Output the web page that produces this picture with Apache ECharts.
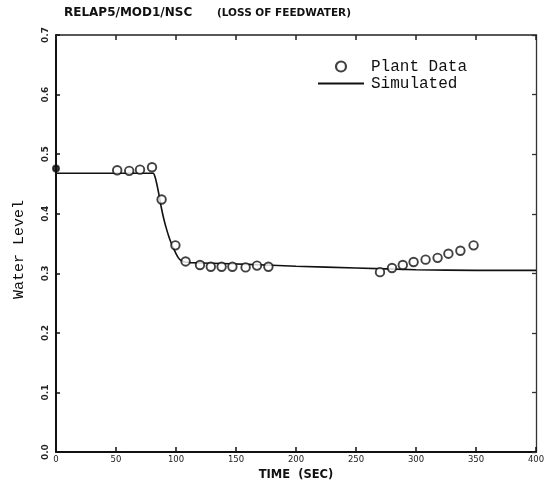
<!DOCTYPE html>
<html>
<head>
<meta charset="utf-8">
<script src="https://cdn.jsdelivr.net/npm/echarts@6/dist/echarts.min.js"></script>
<style>
html,body{margin:0;padding:0;background:#fff;}
#chart{width:548px;height:486px;}
</style>
</head>
<body>
<div id="chart"></div>
<script>
var xTicks = [0, 50, 100, 150, 200, 250, 300, 350, 400];
var yTicks = [0.0, 0.1, 0.2, 0.3, 0.4, 0.5, 0.6, 0.7];

var plantTime  = [0, 51, 61, 70, 80, 88, 99.5, 108, 120, 129, 138, 147, 158, 167.5, 177, 270, 280, 289, 298, 308, 318, 327, 337, 348];
var plantLevel = [0.476, 0.473, 0.472, 0.474, 0.478, 0.424, 0.347, 0.320, 0.314, 0.311, 0.311, 0.311, 0.310, 0.313, 0.311, 0.302, 0.309, 0.314, 0.319, 0.323, 0.326, 0.333, 0.338, 0.347];

var simTime  = [0, 81, 82.5, 84, 86, 88, 90, 92, 94, 96, 98, 100, 102, 104, 107, 112, 130, 160, 200, 250, 300, 350, 400];
var simLevel = [0.468, 0.468, 0.462, 0.450, 0.430, 0.408, 0.390, 0.375, 0.362, 0.351, 0.342, 0.333, 0.326, 0.322, 0.319, 0.318, 0.317, 0.315, 0.312, 0.309, 0.306, 0.305, 0.305];

var plantData = plantTime.map(function (t, i) {
  var item = { value: [t, plantLevel[i]] };
  if (i === 0) {
    item.itemStyle = { color: '#111', borderColor: '#111' };
    item.symbolSize = 6;
  }
  return item;
});
var simData = simTime.map(function (t, i) { return [t, simLevel[i]]; });

var chart = echarts.init(document.getElementById('chart'), null, { renderer: 'canvas' });
var axisCommon = {
  type: 'value',
  splitLine: { show: false }
};
chart.setOption({
  animation: false,
  backgroundColor: '#fff',
  title: [
    { text: 'RELAP5/MOD1/NSC', left: 64, top: 7, padding: 0,
      textStyle: { fontFamily: 'DejaVu Sans', fontWeight: 'bold', fontSize: 12, color: '#111' } },
    { text: '(LOSS OF FEEDWATER)', left: 217, top: 8, padding: 0,
      textStyle: { fontFamily: 'DejaVu Sans', fontWeight: 'bold', fontSize: 10.5, color: '#111' } }
  ],
  legend: {
    orient: 'vertical',
    left: 317,
    top: 58,
    padding: 0,
    itemGap: 0,
    itemWidth: 46,
    itemHeight: 10,
    textStyle: { fontFamily: 'Liberation Mono', fontSize: 16, color: '#111', lineHeight: 17, padding: [0, 0, 0, 2] },
    data: [
      { name: 'Plant Data', itemStyle: { borderWidth: 2.2 } },
      { name: 'Simulated', itemStyle: { opacity: 0 } }
    ]
  },
  grid: { left: 56, right: 12, top: 35, bottom: 30, containLabel: false },
  xAxis: [
    Object.assign({}, axisCommon, {
      min: 0, max: 400, interval: 50,
      position: 'bottom',
      name: 'TIME  (SEC)',
      nameLocation: 'middle',
      nameGap: 5,
      nameTextStyle: { fontFamily: 'DejaVu Sans', fontWeight: 'bold', fontSize: 11.5, color: '#111' },
      axisLine: { show: true, onZero: false, lineStyle: { color: '#111', width: 2 } },
      axisTick: { show: true, inside: true, length: 5, lineStyle: { color: '#111', width: 1.5 } },
      axisLabel: { margin: 3, fontFamily: 'DejaVu Sans', fontSize: 8.5, color: '#222',
        formatter: function (v) { return xTicks.indexOf(v) >= 0 ? String(v) : ''; } }
    }),
    Object.assign({}, axisCommon, {
      min: 0, max: 400, interval: 50,
      position: 'top',
      axisLine: { show: true, onZero: false, lineStyle: { color: '#222', width: 1.5 } },
      axisTick: { show: true, inside: true, length: 5, lineStyle: { color: '#222', width: 1.5 } },
      axisLabel: { show: false }
    })
  ],
  yAxis: [
    Object.assign({}, axisCommon, {
      min: 0, max: 0.7, interval: 0.1,
      position: 'left',
      name: 'Water Level',
      nameLocation: 'middle',
      nameGap: 29,
      nameTextStyle: { fontFamily: 'Liberation Mono', fontSize: 15, color: '#111', padding: [0, 12, 0, 0] },
      axisLine: { show: true, onZero: false, lineStyle: { color: '#111', width: 2 } },
      axisTick: { show: true, inside: true, length: 4, lineStyle: { color: '#111', width: 1.5 } },
      axisLabel: { rotate: 90, margin: 6, fontFamily: 'DejaVu Sans', fontWeight: 'bold', fontSize: 9, color: '#222',
        formatter: function (v) { return v.toFixed(1); } }
    }),
    Object.assign({}, axisCommon, {
      min: 0, max: 0.7, interval: 0.1,
      position: 'right',
      axisLine: { show: true, onZero: false, lineStyle: { color: '#333', width: 1.3 } },
      axisTick: { show: true, inside: true, length: 4, lineStyle: { color: '#333', width: 1.3 } },
      axisLabel: { show: false }
    })
  ],
  series: [
    {
      name: 'Plant Data',
      type: 'scatter',
      data: plantData,
      symbol: 'circle',
      symbolSize: 8.5,
      itemStyle: { color: '#fff', borderColor: '#111', borderWidth: 1.9 },
      z: 3
    },
    {
      name: 'Simulated',
      type: 'line',
      data: simData,
      showSymbol: false,
      symbol: 'none',
      smooth: 0.2,
      itemStyle: { color: '#111' },
      lineStyle: { color: '#111', width: 1.6 },
      z: 2
    }
  ]
});
</script>
</body>
</html>
